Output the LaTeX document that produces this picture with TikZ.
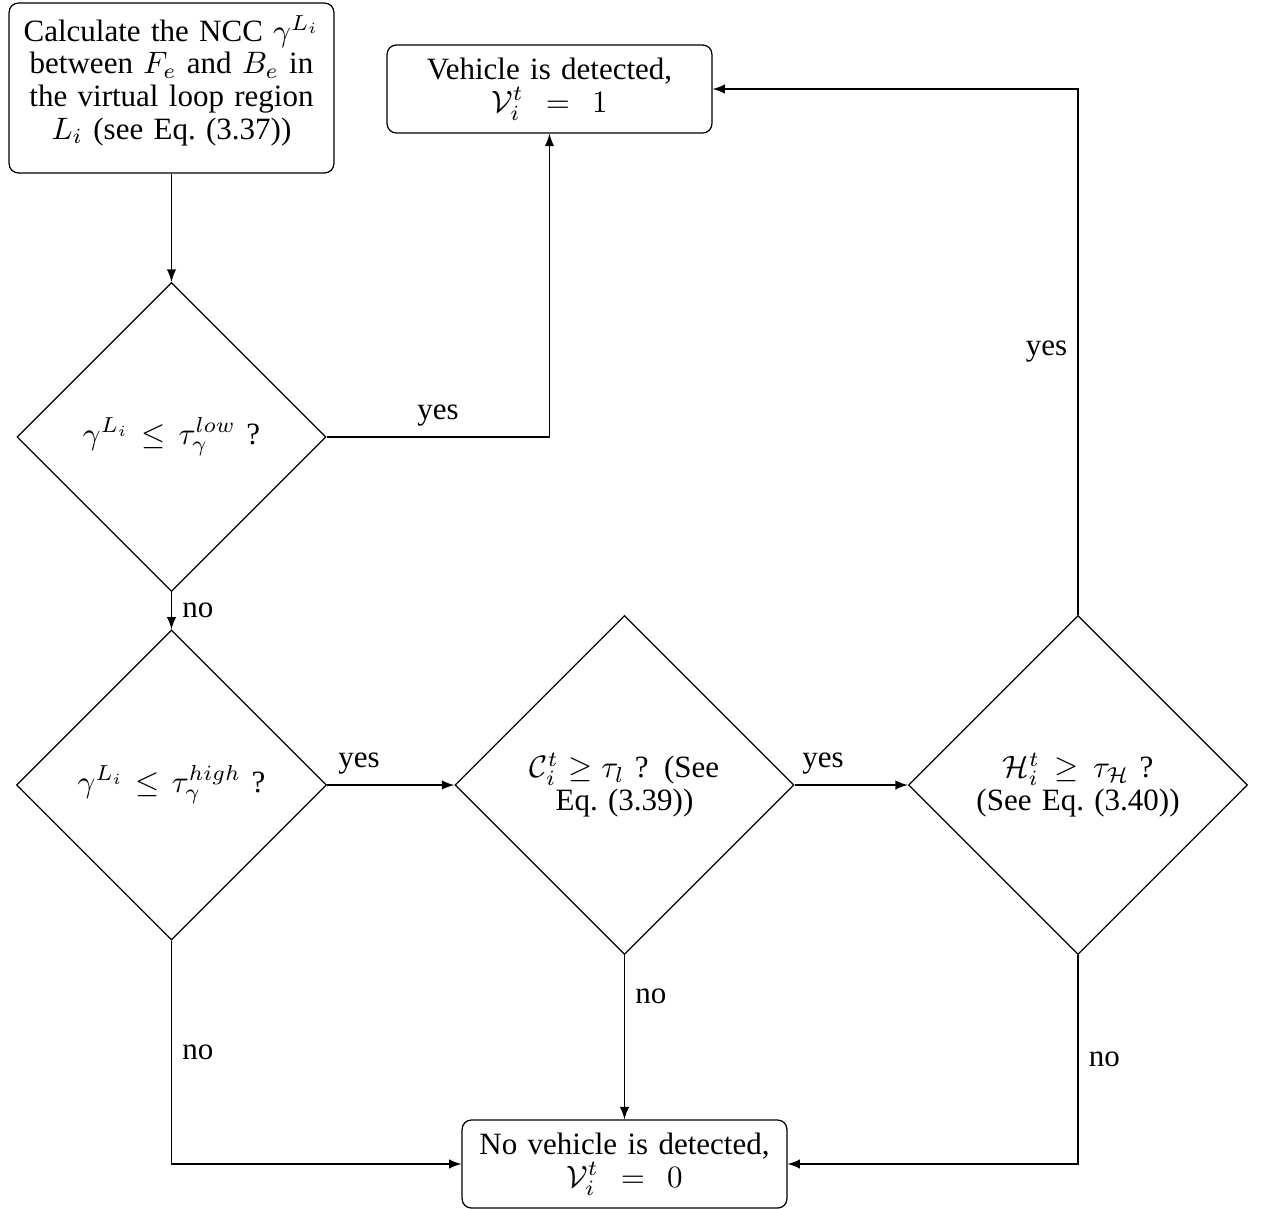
\documentclass[tikz,border=0pt]{standalone}
\usepackage[no-math]{fontspec}
\setmainfont{Liberation Serif}
\usetikzlibrary{shapes.geometric,arrows}
\begin{document}
\begin{tikzpicture}[x=0.3226pt,y=-0.3226pt,
  font=\fontsize{10}{10.5}\selectfont,
  box/.style={rectangle, draw, rounded corners=3pt, text width=100pt, align=center,
    minimum width=104.8pt, inner xsep=2.4pt, inner ysep=0pt},
  decision/.style={diamond, draw, aspect=1, inner sep=0pt, text width=76pt, align=center},
  line/.style={draw, -latex},
  lab/.style={inner sep=3.3pt}]
\useasboundingbox (0,0) rectangle (1268,1208);
\node[box, minimum height=54.8pt] (calc) at (171.5,88)
  {Calculate the NCC $\gamma^{L_i}$\break between $F_e$ and $B_e$ in\break the virtual loop region\break $L_i$ (see Eq.\ (3.37))\rule[-7pt]{0pt}{7pt}};
\node[box, minimum height=28.4pt, minimum width=104.2pt] (veh) at (549.5,89)
  {Vehicle is detected,\break $\mathcal{V}_i^t = 1$};
\node[box, minimum height=28.4pt] (nov) at (624.5,1164)
  {No vehicle is detected,\break $\mathcal{V}_i^t = 0$};
\node[decision, minimum width=99.7pt, minimum height=99.7pt] (d1) at (171.5,437)
  {$\gamma^{L_i} \leq \tau_\gamma^{low}$ ?};
\node[decision, minimum width=100pt, minimum height=100pt] (d2) at (171.5,785)
  {$\gamma^{L_i} \leq \tau_\gamma^{high}$ ?};
\node[decision, minimum width=109.4pt, minimum height=109.4pt, text width=64pt] (d3) at (624.5,785)
  {$\mathcal{C}_i^t \geq \tau_l$ ? (See\break Eq.\ (3.39))};
\node[decision, minimum width=109.4pt, minimum height=109.4pt] (d4) at (1078,785)
  {$\mathcal{H}_i^t \geq \tau_\mathcal{H}$ ?\break (See Eq.\ (3.40))};
\draw[line] (calc) -- (d1);
\draw[line] (d1.east) -| node[lab, near start, above] {yes} (veh.south);
\draw[line] (d1.south) -- node[lab, right] {no} (d2.north);
\draw[line] (d2.east) -- node[lab, near start, above] {yes} (d3.west);
\draw[line] (d3.east) -- node[lab, near start, above] {yes} (d4.west);
\draw[line] (d4.north) |- node[lab, near start, left] {yes} (veh.east);
\draw[line] (d2.south) |- node[lab, near start, right] {no} (nov.west);
\draw[line] (d3.south) -- node[lab, near start, right] {no} (nov.north);
\draw[line] (d4.south) |- node[lab, near start, right] {no} (nov.east);
\end{tikzpicture}
\end{document}
